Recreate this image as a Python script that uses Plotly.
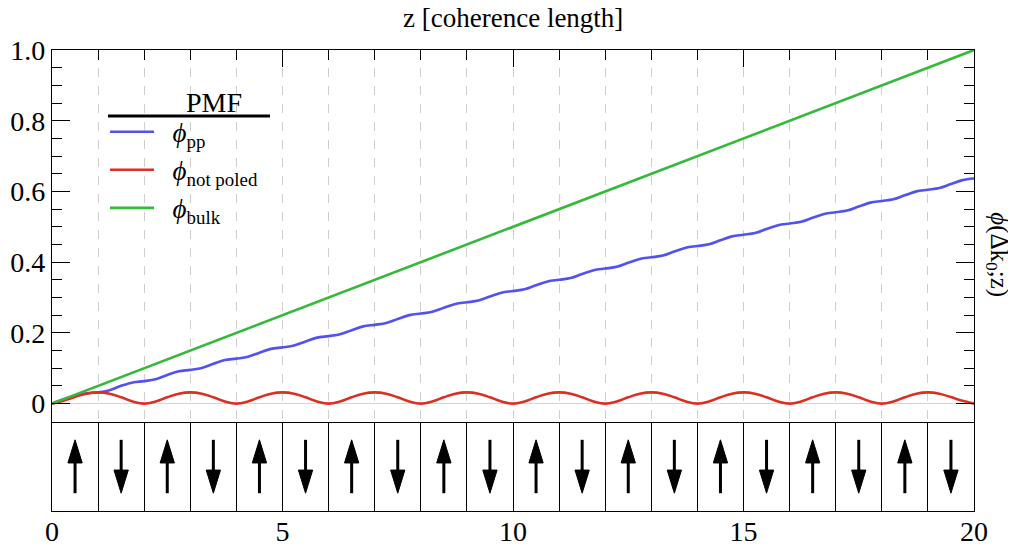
import plotly.graph_objects as go

# ---------------- data ----------------
z = [i * 0.25 for i in range(81)]

phi_pp = [
    0.0, 0.01218, 0.02251, 0.02941,
    0.03183, 0.03819, 0.05033, 0.06006,
    0.06366, 0.06924, 0.08115, 0.09153,
    0.09549, 0.10078, 0.11254, 0.12317,
    0.12732, 0.13246, 0.14412, 0.15490,
    0.15915, 0.16420, 0.17579, 0.18666,
    0.19099, 0.19597, 0.20751, 0.21844,
    0.22282, 0.22775, 0.23926, 0.25024,
    0.25465, 0.25955, 0.27103, 0.28204,
    0.28648, 0.29135, 0.30281, 0.31384,
    0.31831, 0.32316, 0.33460, 0.34566,
    0.35014, 0.35497, 0.36639, 0.37747,
    0.38197, 0.38679, 0.39820, 0.40928,
    0.41380, 0.41861, 0.43000, 0.44110,
    0.44563, 0.45043, 0.46181, 0.47293,
    0.47746, 0.48225, 0.49363, 0.50475,
    0.50929, 0.51407, 0.52545, 0.53657,
    0.54112, 0.54589, 0.55726, 0.56839,
    0.57296, 0.57772, 0.58907, 0.60022,
    0.60478, 0.60954, 0.62089, 0.63204,
    0.63662,
]

phi_not_poled = [
    0.0, 0.0085, 0.0190, 0.0282, 0.0318, 0.0282, 0.0180, 0.0060,
    0.0, 0.0060, 0.0180, 0.0282, 0.0318, 0.0282, 0.0180, 0.0060,
    0.0, 0.0060, 0.0180, 0.0282, 0.0318, 0.0282, 0.0180, 0.0060,
    0.0, 0.0060, 0.0180, 0.0282, 0.0318, 0.0282, 0.0180, 0.0060,
    0.0, 0.0060, 0.0180, 0.0282, 0.0318, 0.0282, 0.0180, 0.0060,
    0.0, 0.0060, 0.0180, 0.0282, 0.0318, 0.0282, 0.0180, 0.0060,
    0.0, 0.0060, 0.0180, 0.0282, 0.0318, 0.0282, 0.0180, 0.0060,
    0.0, 0.0060, 0.0180, 0.0282, 0.0318, 0.0282, 0.0180, 0.0060,
    0.0, 0.0060, 0.0180, 0.0282, 0.0318, 0.0282, 0.0180, 0.0060,
    0.0, 0.0060, 0.0180, 0.0282, 0.0318, 0.0282, 0.0185, 0.0080,
    0.0,
]

z_bulk = [0, 1, 2, 3, 4, 5, 6, 7, 8, 9, 10, 11, 12, 13, 14, 15, 16, 17, 18, 19, 20]
phi_bulk = [0.0, 0.05, 0.10, 0.15, 0.20, 0.25, 0.30, 0.35, 0.40, 0.45, 0.50,
            0.55, 0.60, 0.65, 0.70, 0.75, 0.80, 0.85, 0.90, 0.95, 1.0]

# poling domains: start of each domain and its orientation (+1 up, -1 down)
domain_start = [0, 1, 2, 3, 4, 5, 6, 7, 8, 9, 10, 11, 12, 13, 14, 15, 16, 17, 18, 19]
polarity = [1, -1, 1, -1, 1, -1, 1, -1, 1, -1, 1, -1, 1, -1, 1, -1, 1, -1, 1, -1]

y_tick_vals = [0, 0.2, 0.4, 0.6, 0.8, 1.0]
y_tick_text = ["0", "0.2", "0.4", "0.6", "0.8", "1.0"]
x_tick_vals = [0, 5, 10, 15, 20]
x_tick_text = ["0", "5", "10", "15", "20"]

# ---------------- style ----------------
FONT = "'Liberation Serif', 'Times New Roman', 'DejaVu Serif', serif"
BLUE = "#5252f0"
RED = "#dc2f24"
GREEN = "#36b83a"
GRID = "#cfcfcf"
LW = 1.3

fig = go.Figure()

fig.add_trace(go.Scatter(x=z, y=phi_pp, mode="lines", line=dict(color=BLUE, width=2.6, shape="spline", smoothing=1.0),
                         name="\u00a0\u00a0<i>ϕ</i><sub>pp</sub>", xaxis="x", yaxis="y"))
fig.add_trace(go.Scatter(x=z, y=phi_not_poled, mode="lines", line=dict(color=RED, width=2.6, shape="spline", smoothing=1.2),
                         name="\u00a0\u00a0<i>ϕ</i><sub>not poled</sub>", xaxis="x", yaxis="y"))
fig.add_trace(go.Scatter(x=z_bulk, y=phi_bulk, mode="lines", line=dict(color=GREEN, width=2.6),
                         name="\u00a0\u00a0<i>ϕ</i><sub>bulk</sub>", xaxis="x", yaxis="y"))

# arrows in the poling panel
tail_lo, tail_hi = 0.20, 0.80
head_len = 0.26
half_w = 0.155
shaft_x, shaft_y = [], []
head_x, head_y = [], []
for s, p in zip(domain_start, polarity):
    c = s + 0.5
    if p > 0:
        shaft_x += [c, c, None]
        shaft_y += [tail_lo, tail_hi - head_len + 0.02, None]
        head_x += [c - half_w, c + half_w, c, c - half_w, None]
        head_y += [tail_hi - head_len, tail_hi - head_len, tail_hi, tail_hi - head_len, None]
    else:
        shaft_x += [c, c, None]
        shaft_y += [tail_hi, tail_lo + head_len - 0.02, None]
        head_x += [c - half_w, c + half_w, c, c - half_w, None]
        head_y += [tail_lo + head_len, tail_lo + head_len, tail_lo, tail_lo + head_len, None]

fig.add_trace(go.Scatter(x=shaft_x, y=shaft_y, mode="lines", line=dict(color="black", width=3),
                         showlegend=False, hoverinfo="skip", xaxis="x2", yaxis="y2"))
fig.add_trace(go.Scatter(x=head_x, y=head_y, mode="lines", fill="toself", fillcolor="black",
                         line=dict(color="black", width=1), showlegend=False, hoverinfo="skip",
                         xaxis="x2", yaxis="y2"))

split = 0.193
fig.update_layout(
    width=1008, height=538,
    margin=dict(l=44, r=42, t=42, b=35, autoexpand=False),
    paper_bgcolor="white", plot_bgcolor="white",
    font=dict(family=FONT, size=26, color="black"),
    showlegend=True,
    legend=dict(x=0.0575, y=0.875, xanchor="left", yanchor="top", bgcolor="rgba(0,0,0,0)",
                font=dict(family=FONT, size=27), itemwidth=44, tracegroupgap=0),
    xaxis=dict(domain=[0, 1], anchor="y", range=[0, 20], side="top", automargin=False,
               showticklabels=False, ticks="inside", ticklen=17, tickwidth=LW, tickcolor="black",
               dtick=5, tick0=0,
               showgrid=True, gridcolor=GRID, griddash="dash", gridwidth=1,
               minor=dict(dtick=1, tick0=0, ticks="inside", ticklen=10, tickwidth=LW, tickcolor="black",
                          showgrid=True, gridcolor=GRID, griddash="dash", gridwidth=1),
               showline=True, linecolor="black", linewidth=LW, mirror=True, zeroline=False),
    yaxis=dict(domain=[split, 1], anchor="x", range=[-0.052, 1.0], automargin=False,
               tickmode="array", tickvals=y_tick_vals, ticktext=y_tick_text,
               ticks="inside", ticklen=18, tickwidth=LW, tickcolor="black",
               tickfont=dict(family=FONT, size=28),
               minor=dict(tickmode="linear", tick0=0, dtick=0.05, ticks="inside", ticklen=10,
                          tickwidth=LW, tickcolor="black", showgrid=False),
               showgrid=False, zeroline=True, zerolinecolor="#d6d6d6", zerolinewidth=1.2,
               showline=True, linecolor="black", linewidth=LW, mirror="ticks"),
    xaxis2=dict(domain=[0, 1], anchor="y2", range=[0, 20], automargin=False,
                tickmode="array", tickvals=x_tick_vals, ticktext=x_tick_text,
                ticks="", tickfont=dict(family=FONT, size=28), ticklabelstandoff=-5,
                showgrid=True, gridcolor="black", gridwidth=1.1,
                minor=dict(tickmode="linear", tick0=0, dtick=1, showgrid=True, gridcolor="black", gridwidth=1.1),
                showline=True, linecolor="black", linewidth=LW, mirror=False, zeroline=False),
    yaxis2=dict(domain=[0, split], anchor="x2", range=[0, 1], automargin=False,
                showticklabels=False, ticks="", showgrid=False, zeroline=False,
                showline=True, linecolor="black", linewidth=LW, mirror=True),
)

# top axis title
fig.add_annotation(text="z [coherence length]", xref="paper", yref="paper", x=0.5, y=1.0694,
                   xanchor="center", yanchor="middle", showarrow=False,
                   font=dict(family=FONT, size=27))

# right-hand axis title (reads top to bottom)
fig.add_annotation(text="<i>ϕ</i>(Δk<sub>0</sub>;z)", xref="paper", yref="paper", x=1.026, y=0.555,
                   xanchor="center", yanchor="middle", textangle=90, showarrow=False,
                   font=dict(family=FONT, size=25))

# legend heading and its underline
fig.add_annotation(text="PMF", xref="paper", yref="paper", x=0.176, y=0.886,
                   xanchor="center", yanchor="middle", showarrow=False,
                   font=dict(family=FONT, size=28))
fig.add_shape(type="line", xref="paper", yref="paper", x0=0.0607, x1=0.2364, y0=0.857, y1=0.857,
              line=dict(color="black", width=3))

fig.write_html("out.html")
